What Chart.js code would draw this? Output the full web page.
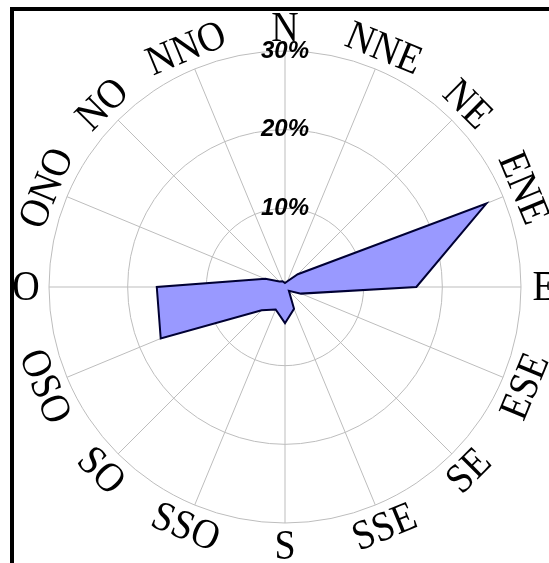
<!DOCTYPE html>
<html>
<head>
<meta charset="utf-8">
<script src="https://cdn.jsdelivr.net/npm/chart.js@4/dist/chart.umd.min.js"></script>
<style>
  html, body { margin: 0; padding: 0; background: #fff; overflow: hidden; }
  #wrap { position: relative; width: 549px; height: 563px; }
  #frame { position: absolute; left: 10px; top: 7px; width: 600px; height: 552px;
           border-top: 4px solid #000; border-left: 4px solid #000; border-bottom: 2px solid #000; pointer-events: none; }
  canvas { position: absolute; left: 0; top: 0; }
</style>
</head>
<body>
<div id="wrap">
  <canvas id="c" width="549" height="563"></canvas>
  <div id="frame"></div>
</div>
<script>
const directions = ['N','NNE','NE','ENE','E','ESE','SE','SSE','S','SSO','SO','OSO','O','ONO','NO','NNO'];
const frequency = [0.5, 0.8, 2.3, 27.7, 16.7, 2.2, 0.7, 3.0, 4.6, 3.1, 4.2, 17.1, 16.3, 2.7, 1.0, 0.8];
const tickValues = [10, 20, 30];

const rotatedLabels = {
  id: 'rotatedLabels',
  afterDraw(chart) {
    const scale = chart.scales.r;
    const ctx = chart.ctx;
    const n = chart.data.labels.length;
    ctx.save();
    ctx.font = '38px "Liberation Serif", "Times New Roman", serif';
    ctx.fillStyle = '#000';
    ctx.textAlign = 'center';
    ctx.textBaseline = 'middle';
    for (let i = 0; i < n; i++) {
      const deg = i * 360 / n;
      let rot;
      if (deg === 0 || deg === 90 || deg === 180 || deg === 270) rot = 0;
      else if (deg < 90) rot = deg;
      else if (deg < 270) rot = deg - 180;
      else rot = deg - 360;
      const p = scale.getPointPosition(i, scale.drawingArea + 23);
      ctx.save();
      ctx.translate(p.x, p.y);
      ctx.rotate(rot * Math.PI / 180);
      ctx.scale(1, 1.1);
      ctx.fillText(chart.data.labels[i], 0, 2);
      ctx.restore();
    }
    ctx.restore();
  }
};

new Chart(document.getElementById('c'), {
  type: 'radar',
  data: {
    labels: directions,
    datasets: [{
      data: frequency,
      backgroundColor: '#9999ff',
      borderColor: '#000033',
      borderWidth: 2,
      pointRadius: 0,
      fill: true,
      tension: 0
    }]
  },
  options: {
    responsive: false,
    animation: false,
    layout: { padding: { left: 37, top: 39, right: 16, bottom: 28 } },
    plugins: { legend: { display: false }, tooltip: { enabled: false } },
    scales: {
      r: {
        min: 0,
        max: 30,
        afterBuildTicks(axis) { axis.ticks = [0, ...tickValues].map(v => ({ value: v })); },
        ticks: {
          stepSize: 10,
          showLabelBackdrop: false,
          backdropPadding: 0,
          color: '#000',
          font: { family: '"Liberation Sans", Arial, sans-serif', size: 24, weight: 'bold', style: 'italic' },
          callback: v => v + '%'
        },
        grid: { circular: true, color: '#bdbdbd', lineWidth: 1 },
        angleLines: { color: '#bdbdbd', lineWidth: 1 },
        pointLabels: { display: false }
      }
    }
  },
  plugins: [rotatedLabels]
});
</script>
</body>
</html>
